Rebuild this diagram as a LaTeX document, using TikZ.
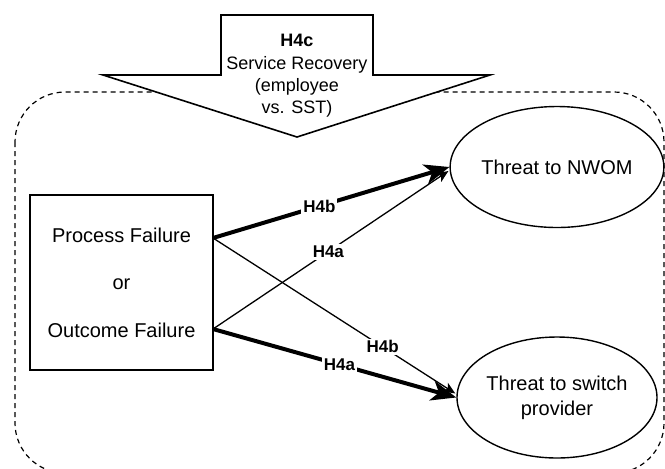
\documentclass[tikz,border=0pt]{standalone}
\usepackage{fontspec}
\setmainfont{Liberation Sans}
\usetikzlibrary{arrows.meta,shapes.geometric,calc}
\begin{document}
\begin{tikzpicture}[x=0.5pt,y=-0.5pt,
 txt/.style={font=\fontsize{10}{12}\selectfont, align=center},
 ell/.style={ellipse, draw, line width=0.7pt, minimum width=100pt, minimum height=60.5pt, inner sep=0pt, txt},
 lbl/.style={font=\fontsize{8.5}{10}\selectfont\bfseries, fill=white, inner sep=1pt},
 thickarr/.style={line width=2pt, -{Stealth[length=12.5pt,width=10pt,inset=3.5pt]}},
 thinarr/.style={line width=0.65pt, -{Stealth[length=6pt,width=5pt,inset=1.5pt]}},
]
\clip (0,0) rectangle (665,468);
\useasboundingbox (0,0) rectangle (665,468);
\draw[dash pattern=on 2.5pt off 2pt, line width=0.6pt, rounded corners=25pt] (15,92) rectangle (664,473);
\draw[line width=0.8pt, fill=white] (221,15) -- (373,15) -- (373,75) -- (490,75) -- (297,137) -- (103,75) -- (221,75) -- cycle;
\node[font=\fontsize{9}{11.2}\selectfont, align=center, inner sep=0pt] (h4c) at (297,76) {\textbf{H4c}\\Service Recovery\\(employee\\vs. SST)};
\node[draw, line width=0.7pt, minimum width=91.5pt, minimum height=87.5pt, inner sep=0pt, txt, font=\fontsize{10}{11.9}\selectfont] (box) at (121.5,282.5) {Process Failure\\[11.85pt]or\\[11.85pt]Outcome Failure};
\node[ell] (nwom) at (557,167) {Threat to NWOM};
\node[ell, font=\fontsize{10}{12.5}\selectfont] (sw) at (557,397.5) {Threat to switch\\provider};
\coordinate (pf) at (213,238);
\coordinate (of) at (213,329);
\draw[thinarr] (of) -- ($(nwom.west)+(-1,4)$) node[lbl,pos=0.49] {H4a};
\draw[thinarr] (pf) -- ($(sw.west)+(-1,-4)$) node[lbl,pos=0.7] {H4b};
\draw[thickarr] (pf) -- (nwom.west) node[lbl,pos=0.45] {H4b};
\draw[thickarr] (of) -- (sw.west) node[lbl,pos=0.52] {H4a};
\end{tikzpicture}
\end{document}
